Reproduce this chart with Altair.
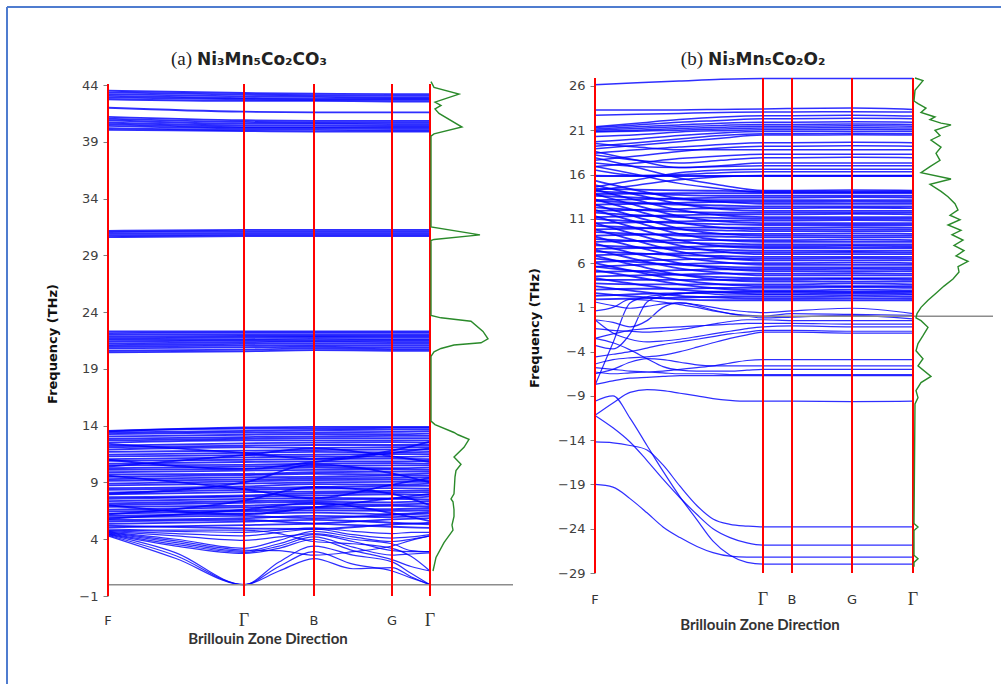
import altair as alt
import pandas as pd

# ---------------- panel (a) data ----------------
kpath_a = [0, 136, 206, 284, 322]                       # F, Γ, B, G, Γ (path distance)
kfine_a = [0, 68, 136, 171, 206, 245, 284, 303, 322]
sym_labels = ["F", "Γ", "B", "G", "Γ"]
yticks_a = [44, 39, 34, 29, 24, 19, 14, 9, 4, -1]

low_a = [
    [4.30, 2.30, 0.00, 1.20, 2.30, 1.40, 1.50, 0.70, 0.00],
    [4.35, 2.55, 0.00, 1.60, 2.90, 1.80, 1.20, 0.60, 0.00],
    [4.40, 2.80, 0.00, 2.00, 3.40, 2.60, 2.00, 1.00, 0.00],
    [4.45, 3.40, 2.75, 3.20, 4.00, 3.00, 2.20, 1.60, 1.20],
    [4.50, 3.55, 2.85, 3.40, 4.20, 3.30, 2.60, 2.70, 2.80],
    [4.55, 3.70, 2.95, 3.60, 4.40, 3.80, 3.00, 2.90, 2.90],
    [4.60, 3.85, 3.05, 3.00, 2.60, 2.90, 3.40, 3.90, 4.30],
    [4.65, 4.00, 3.20, 3.90, 4.70, 4.20, 3.80, 4.00, 4.30],
    [4.70, 4.30, 3.90, 4.20, 4.50, 4.00, 3.60, 3.00, 2.90],
    [4.75, 4.50, 4.30, 4.60, 4.90, 4.40, 4.10, 4.20, 4.40],
    [4.80, 4.70, 4.60, 4.80, 5.00, 4.70, 4.50, 4.60, 4.60],
    [4.90, 4.80, 4.80, 4.50, 3.80, 3.60, 3.20, 2.50, 1.20],
]

main_a = [
    [5.05, 5.25, 5.35, 5.10, 5.00], [5.20, 4.95, 4.90, 5.30, 5.45],
    [5.35, 5.55, 5.70, 5.45, 5.30], [5.55, 5.70, 5.40, 5.75, 5.85],
    [5.70, 5.85, 6.05, 5.95, 6.05], [5.90, 6.05, 5.85, 6.15, 6.25],
    [6.05, 6.25, 6.35, 6.20, 6.40], [6.25, 6.45, 6.55, 6.50, 6.55],
    [6.45, 6.55, 6.75, 6.65, 6.75], [6.60, 6.80, 6.85, 6.95, 6.90],
    [6.85, 6.95, 7.10, 7.05, 7.15], [7.00, 7.20, 7.30, 7.25, 7.35],
    [7.15, 7.35, 7.45, 7.55, 7.50], [7.35, 7.55, 7.65, 7.60, 7.75],
    [7.55, 7.75, 7.85, 7.95, 7.90], [7.70, 7.85, 8.05, 8.10, 8.15],
    [7.95, 8.15, 8.20, 8.25, 8.30], [8.10, 8.35, 8.45, 8.50, 8.45],
    [8.35, 8.50, 8.60, 8.70, 8.70], [8.50, 8.65, 8.85, 8.80, 8.90],
    [8.75, 8.90, 9.00, 9.05, 9.05], [8.90, 9.10, 9.20, 9.25, 9.20],
    [9.15, 9.25, 9.35, 9.40, 9.45], [9.30, 9.45, 9.50, 9.60, 9.60],
    [9.50, 9.65, 9.75, 9.70, 9.80], [9.70, 9.75, 9.90, 9.95, 9.95],
    [9.90, 10.05, 10.10, 10.15, 10.10], [10.10, 10.20, 10.30, 10.25, 10.30],
    [10.25, 10.40, 10.45, 10.50, 10.50], [10.50, 10.55, 10.65, 10.70, 10.65],
    [10.65, 10.80, 10.85, 10.85, 10.90], [10.90, 11.00, 11.05, 11.10, 11.05],
    [11.05, 11.20, 11.30, 11.25, 11.30], [11.30, 11.40, 11.45, 11.50, 11.50],
    [11.45, 11.60, 11.70, 11.65, 11.70], [11.70, 11.80, 11.85, 11.90, 11.90],
    [11.90, 12.10, 12.05, 12.10, 12.10], [12.10, 12.25, 12.30, 12.30, 12.30],
    [12.25, 12.45, 12.50, 12.55, 12.50], [12.50, 12.70, 12.70, 12.70, 12.70],
    [12.70, 12.85, 12.90, 12.90, 12.90], [12.85, 13.00, 13.05, 13.10, 13.10],
    [13.05, 13.20, 13.25, 13.25, 13.30], [13.25, 13.40, 13.40, 13.45, 13.50],
    [13.40, 13.55, 13.60, 13.65, 13.65], [13.55, 13.75, 13.75, 13.80, 13.80],
    [13.50, 13.85, 13.90, 13.90, 13.90],
    [6.20, 7.40, 8.60, 8.00, 7.00], [9.60, 8.40, 7.60, 8.80, 9.40],
    [11.00, 10.20, 10.80, 11.60, 12.00], [8.00, 9.00, 10.60, 9.80, 9.00],
    [12.40, 11.60, 11.10, 11.80, 12.60], [5.80, 6.60, 7.20, 6.30, 5.60],
    [7.00, 6.20, 6.80, 7.60, 8.00], [10.40, 11.40, 12.00, 11.30, 10.80],
]

band21_a = [
    [20.45, 20.55, 20.65, 20.60, 20.60], [20.60, 20.70, 20.80, 20.75, 20.75],
    [20.80, 20.90, 20.95, 20.90, 20.90], [20.95, 21.05, 21.10, 21.05, 21.05],
    [21.10, 21.20, 21.25, 21.20, 21.20], [21.25, 21.35, 21.40, 21.35, 21.35],
    [21.40, 21.50, 21.50, 21.50, 21.50], [21.55, 21.60, 21.65, 21.60, 21.60],
    [21.70, 21.75, 21.80, 21.75, 21.75], [21.85, 21.90, 21.90, 21.90, 21.90],
    [22.00, 22.05, 22.05, 22.05, 22.05], [22.15, 22.20, 22.20, 22.20, 22.20],
    [22.30, 22.30, 22.30, 22.30, 22.30],
]

band31_a = [
    [30.60, 30.70, 30.70, 30.70, 30.70], [30.75, 30.80, 30.80, 30.80, 30.80],
    [30.90, 30.95, 30.95, 30.95, 30.95], [31.05, 31.10, 31.10, 31.10, 31.10],
    [31.15, 31.25, 31.25, 31.25, 31.25],
]

band42_a = [
    [43.50, 43.30, 43.25, 43.20, 43.20], [43.35, 43.15, 43.10, 43.05, 43.05],
    [43.20, 43.00, 42.95, 42.90, 42.90], [43.05, 42.85, 42.80, 42.80, 42.80],
    [42.90, 42.75, 42.70, 42.70, 42.70], [42.75, 42.60, 42.60, 42.55, 42.55],
    [42.00, 41.65, 41.60, 41.60, 41.60],
    [41.20, 40.90, 40.85, 40.85, 40.85], [41.05, 40.75, 40.70, 40.70, 40.70],
    [40.90, 40.60, 40.60, 40.55, 40.55], [40.70, 40.45, 40.45, 40.40, 40.40],
    [40.55, 40.30, 40.30, 40.30, 40.30], [40.40, 40.20, 40.20, 40.15, 40.15],
    [40.20, 40.05, 40.05, 40.00, 40.00], [40.05, 39.95, 39.90, 39.90, 39.90],
]

dos_a_f = [44.3, 43.8, 43.2, 42.5, 42.2, 41.9, 41.5, 40.3, 39.7, 39.5,
           31.5, 30.8, 30.4, 30.3, 23.7, 23.5, 23.2, 22.3, 21.65, 21.3,
           21.1, 20.8, 20.5, 20.1, 14.4, 14.1, 13.4, 13.2, 12.8, 12.1,
           11.25, 10.6, 10.05, 9.5, 8.0, 7.55, 7.3, 6.6, 6.0, 5.25,
           4.8, 3.7, 2.4, 1.2]
dos_a_v = [0, 3, 28, 4, 10, 4, 8, 31, 3, 0,
           0, 49, 3, 0, 0, 10, 40, 52, 57, 50,
           23, 10, 3, 0, 0, 4, 23, 27, 38, 33,
           23, 30, 25, 24, 23, 20, 22, 23, 23, 21,
           22, 13, 5, 2]

# ---------------- panel (b) data ----------------
kpath_b = [0, 168, 197, 257, 318]
kmid_b = [0, 42, 84, 126, 168, 197, 257, 318]
kfine_b = [0, 18, 35, 52, 68, 85, 102, 118, 135, 152, 168, 197, 257, 318]
yticks_b = [26, 21, 16, 11, 6, 1, -4, -9, -14, -19, -24, -29]

low_b = [
    [-7.8, -3.0, 1.5, 2.2, 2.4, 2.6, 2.6, 2.5, 2.4, 2.4, 2.4, 2.4, 2.4, 2.4],
    [-3.3, -3.7, -2.0, 1.6, 2.3, 2.5, 2.7, 2.8, 2.8, 2.8, 2.8, 2.8, 2.8, 2.8],
    [-0.4, -0.7, -1.2, -0.5, 1.0, 1.5, 1.2, 0.7, 0.3, 0.0, -0.2, -0.1, 0.1, -0.3],
    [1.6, 1.2, 0.9, 1.1, 1.4, 1.5, 1.3, 1.0, 0.7, 0.5, 0.4, 0.6, 0.9, 0.3],
    [0.6, 1.0, 1.9, 1.8, 1.6, 1.3, 1.0, 0.6, 0.3, 0.1, 0.0, 0.3, 0.2, 0.1],
    [-1.4, -1.6, -1.7, -1.8, -1.7, -1.5, -1.2, -0.9, -0.6, -0.4, -0.4, -0.5, -0.5, -0.5],
    [-2.5, -2.0, -1.6, -1.4, -1.3, -1.2, -1.1, -1.0, -0.9, -0.8, -0.8, -0.8, -0.9, -0.9],
    [-0.4, -1.9, -2.6, -2.9, -2.8, -2.6, -2.3, -2.0, -1.7, -1.4, -1.2, -1.1, -1.2, -1.2],
    [-4.6, -4.3, -4.0, -3.6, -3.2, -2.9, -2.6, -2.3, -2.0, -1.8, -1.6, -1.6, -1.7, -1.7],
    [-5.4, -4.9, -4.7, -4.6, -4.4, -4.0, -3.5, -3.0, -2.5, -2.1, -1.8, -1.8, -1.9, -1.9],
    [-2.5, -3.0, -3.8, -4.8, -5.7, -6.1, -6.2, -6.2, -6.2, -6.1, -6.0, -6.0, -6.0, -6.0],
    [-6.3, -6.5, -6.4, -6.3, -6.2, -6.0, -5.8, -5.6, -5.3, -5.0, -4.9, -4.9, -4.9, -4.9],
    [-5.8, -6.0, -6.2, -6.3, -6.4, -6.5, -6.5, -6.5, -6.6, -6.6, -6.6, -6.6, -6.6, -6.6],
    [-6.5, -6.0, -5.2, -4.8, -4.9, -5.2, -5.5, -5.6, -5.6, -5.6, -5.6, -5.6, -5.6, -5.6],
    [-7.7, -7.3, -7.0, -6.9, -6.8, -6.7, -6.7, -6.7, -6.7, -6.7, -6.7, -6.7, -6.7, -6.7],
    [-11.2, -9.8, -8.6, -8.3, -8.4, -8.7, -9.0, -9.3, -9.5, -9.6, -9.6, -9.6, -9.65, -9.6],
    [-19.0, -19.3, -20.6, -22.2, -23.8, -25.0, -26.0, -26.7, -27.1, -27.2, -27.2, -27.2, -27.2, -27.2],
    [-14.2, -14.3, -14.6, -15.1, -16.8, -19.2, -21.4, -22.9, -23.5, -23.7, -23.8, -23.8, -23.8, -23.8],
    [-11.2, -12.6, -14.2, -16.3, -18.4, -20.5, -22.4, -24.0, -25.0, -25.6, -25.85, -25.85, -25.85, -25.85],
    [-9.6, -9.0, -11.5, -14.6, -17.5, -20.4, -23.0, -25.4, -27.0, -27.8, -28.0, -28.0, -28.0, -28.0],
]

upper_b = [
    [26.15, 26.35, 26.55, 26.75, 26.85, 26.85, 26.85, 26.85],
    [23.3, 23.3, 23.3, 23.35, 23.4, 23.45, 23.5, 23.35],
    [22.7, 22.8, 22.9, 23.0, 23.05, 23.05, 23.1, 23.05],
    [21.4, 21.8, 22.2, 22.5, 22.65, 22.65, 22.7, 22.6],
    [21.3, 21.6, 21.9, 22.1, 22.3, 22.3, 22.35, 22.3],
    [21.15, 21.4, 21.6, 21.8, 21.9, 21.9, 21.95, 21.9],
    [21.0, 21.2, 21.4, 21.55, 21.65, 21.65, 21.7, 21.65],
    [20.9, 21.0, 21.2, 21.35, 21.45, 21.45, 21.5, 21.45],
    [20.8, 20.9, 21.0, 21.15, 21.25, 21.25, 21.3, 21.25],
    [20.3, 20.5, 20.8, 20.95, 21.05, 21.05, 21.1, 21.05],
    [19.7, 20.0, 20.4, 20.7, 20.85, 20.85, 20.9, 20.85],
    [19.2, 19.6, 20.0, 20.4, 20.6, 20.6, 20.65, 20.6],
    [18.9, 19.3, 19.7, 20.1, 20.45, 20.45, 20.5, 20.45],
    [18.4, 18.8, 19.1, 19.4, 19.6, 19.6, 19.65, 19.6],
    [17.6, 18.1, 18.6, 19.0, 19.2, 19.2, 19.25, 19.2],
    [19.5, 19.1, 18.8, 18.8, 18.8, 18.8, 18.8, 18.8],
    [16.9, 17.3, 17.8, 18.1, 18.3, 18.3, 18.3, 18.3],
    [18.2, 17.6, 17.3, 17.6, 17.9, 17.9, 17.95, 17.9],
    [17.3, 16.9, 16.8, 17.0, 17.3, 17.3, 17.3, 17.3],
    [18.6, 17.6, 16.8, 16.9, 17.0, 17.0, 17.0, 17.0],
    [14.6, 15.4, 16.2, 16.5, 16.6, 16.6, 16.6, 16.6],
    [16.5, 15.9, 16.0, 16.2, 16.3, 16.3, 16.3, 16.3],
    [15.8, 15.8, 15.8, 15.8, 15.8, 15.8, 15.8, 15.8],
    [15.9, 15.85, 15.85, 15.85, 15.85, 15.85, 15.85, 15.85],
    [17.9, 16.8, 15.6, 14.8, 14.2, 14.2, 14.25, 14.2],
    [16.9, 16.0, 15.0, 14.4, 14.0, 14.0, 14.0, 14.0],
    [14.2, 14.8, 15.4, 15.75, 15.9, 15.9, 15.9, 15.9],
]

main_b = [
    [2.6, 2.2, 1.9, 1.8, 1.8, 1.8, 1.8, 1.8], [3.4, 2.8, 2.3, 2.1, 2.0, 2.0, 2.05, 2.0],
    [1.9, 2.0, 2.1, 2.2, 2.2, 2.2, 2.3, 2.2], [4.3, 3.6, 3.0, 2.7, 2.5, 2.5, 2.6, 2.5],
    [2.3, 2.5, 2.6, 2.7, 2.7, 2.7, 2.7, 2.7], [5.2, 4.4, 3.6, 3.1, 2.9, 2.9, 3.0, 2.9],
    [3.0, 3.1, 3.1, 3.2, 3.2, 3.2, 3.3, 3.2], [6.0, 5.0, 4.1, 3.6, 3.4, 3.4, 3.4, 3.4],
    [3.7, 3.6, 3.6, 3.6, 3.6, 3.6, 3.7, 3.6], [6.8, 5.7, 4.7, 4.1, 3.9, 3.9, 3.9, 3.9],
    [4.1, 4.1, 4.1, 4.1, 4.1, 4.1, 4.2, 4.1], [5.6, 5.1, 4.7, 4.4, 4.3, 4.3, 4.3, 4.3],
    [7.5, 6.4, 5.4, 4.9, 4.6, 4.6, 4.6, 4.6], [4.5, 4.6, 4.7, 4.8, 4.8, 4.8, 4.85, 4.8],
    [8.2, 7.0, 6.0, 5.4, 5.1, 5.1, 5.1, 5.1], [5.0, 5.1, 5.2, 5.3, 5.3, 5.3, 5.35, 5.3],
    [6.5, 6.1, 5.8, 5.6, 5.5, 5.5, 5.5, 5.5], [9.0, 7.8, 6.7, 6.1, 5.8, 5.8, 5.8, 5.8],
    [5.6, 5.8, 5.9, 6.0, 6.0, 6.0, 6.05, 6.0], [9.8, 8.5, 7.3, 6.6, 6.3, 6.3, 6.3, 6.3],
    [6.1, 6.3, 6.4, 6.5, 6.5, 6.5, 6.55, 6.5], [7.3, 7.1, 6.9, 6.8, 6.7, 6.7, 6.7, 6.7],
    [10.5, 9.2, 8.0, 7.3, 7.0, 7.0, 7.0, 7.0], [6.9, 7.0, 7.1, 7.2, 7.2, 7.2, 7.25, 7.2],
    [8.0, 7.8, 7.6, 7.5, 7.4, 7.4, 7.4, 7.4], [11.3, 9.9, 8.6, 7.9, 7.7, 7.7, 7.7, 7.7],
    [7.6, 7.7, 7.8, 7.9, 7.9, 7.9, 7.95, 7.9], [8.7, 8.5, 8.3, 8.2, 8.1, 8.1, 8.1, 8.1],
    [12.0, 10.6, 9.3, 8.6, 8.4, 8.4, 8.4, 8.4], [8.4, 8.5, 8.6, 8.6, 8.6, 8.6, 8.65, 8.6],
    [9.5, 9.3, 9.1, 9.0, 8.9, 8.9, 8.9, 8.9], [12.6, 11.2, 9.9, 9.3, 9.1, 9.1, 9.1, 9.1],
    [9.1, 9.2, 9.3, 9.3, 9.3, 9.3, 9.35, 9.3], [10.2, 10.0, 9.8, 9.7, 9.6, 9.6, 9.6, 9.6],
    [13.2, 11.9, 10.6, 10.0, 9.8, 9.8, 9.8, 9.8], [9.8, 9.9, 10.0, 10.0, 10.0, 10.0, 10.05, 10.0],
    [11.0, 10.7, 10.5, 10.4, 10.3, 10.3, 10.3, 10.3], [13.8, 12.5, 11.3, 10.7, 10.5, 10.5, 10.5, 10.5],
    [10.5, 10.6, 10.7, 10.8, 10.8, 10.8, 10.85, 10.8], [11.7, 11.4, 11.2, 11.1, 11.0, 11.0, 11.0, 11.0],
    [14.3, 13.1, 12.0, 11.4, 11.2, 11.2, 11.2, 11.2], [11.2, 11.3, 11.4, 11.5, 11.5, 11.5, 11.55, 11.5],
    [12.3, 12.0, 11.8, 11.7, 11.7, 11.7, 11.7, 11.7], [14.8, 13.7, 12.7, 12.1, 11.9, 11.9, 11.9, 11.9],
    [11.9, 12.0, 12.1, 12.2, 12.2, 12.2, 12.25, 12.2], [13.0, 12.8, 12.6, 12.5, 12.4, 12.4, 12.4, 12.4],
    [15.3, 14.2, 13.3, 12.9, 12.7, 12.7, 12.7, 12.7], [12.6, 12.7, 12.8, 12.9, 12.9, 12.9, 12.95, 12.9],
    [13.6, 13.4, 13.2, 13.1, 13.1, 13.1, 13.1, 13.1], [13.1, 13.2, 13.3, 13.4, 13.4, 13.4, 13.45, 13.4],
    [14.1, 13.9, 13.7, 13.6, 13.6, 13.6, 13.6, 13.6], [13.8, 13.85, 13.9, 13.9, 13.9, 13.9, 13.9, 13.9],
    [14.4, 14.3, 14.2, 14.15, 14.1, 14.1, 14.1, 14.1],
]

dos_b_f = [26.9, 26.6, 25.5, 24.3, 24.0, 23.5, 23.0, 22.5, 22.2, 21.8,
           21.6, 21.0, 20.4, 19.9, 19.1, 18.4, 17.6, 16.9, 16.2, 15.5,
           14.9, 14.1, 13.5, 12.7, 12.0, 11.4, 10.9, 10.3, 9.7, 9.2,
           8.6, 8.0, 7.4, 6.8, 6.2, 5.6, 5.0, 4.2, 3.4, 2.6,
           1.8, 1.0, 0.3, -0.2, -0.5, -1.25, -2.2, -3.1, -3.9, -4.8,
           -5.6, -6.8, -7.5, -8.4, -9.2, -9.9, -23.4, -23.8, -24.2, -27.0,
           -27.4, -27.8, -28.3]
dos_b_v = [1, 9, 1, 0, 4, 12, 7, 21, 16, 27,
           37, 21, 26, 17, 27, 22, 26, 16, 7, 37,
           16, 27, 34, 41, 44, 36, 46, 34, 47, 38,
           49, 40, 50, 42, 54, 44, 45, 39, 30, 22,
           14, 7, 3, 2, 7, 14, 9, 4, 2, 9,
           4, 17, 7, 2, 4, 1, 0, 4, 0, 0,
           4, 0, 0]

# ---------------- helpers ----------------
BLUE = "#0000ff"
RED = "#ff0000"
GREEN = "#2a8a2a"
GRAY = "#8c8c8c"
BORDER = "#4f7ccf"


def band_frame(groups):
    rows = []
    bid = 0
    for kk, bands, w in groups:
        for b in bands:
            for k, f in zip(kk, b):
                rows.append({"band": bid, "k": k, "f": f, "w": w})
            bid += 1
    return pd.DataFrame(rows)


def panel(bands_df, kpath, dos_f, dos_v, ydom, ytop, yticks, width, height,
          title_tag, title_formula, tag_x, lab_y, xt_x, xt_y, yt_x, yt_y,
          border=False):
    xs = alt.Scale(domain=[0, width], nice=False, zero=False)
    ys = alt.Scale(domain=ydom, nice=False, zero=False)
    yaxis = alt.Axis(values=yticks, title=None, domain=False, grid=False, ticks=True,
                     tickColor="#7f7f7f", tickSize=5, labelFont="DejaVu Sans",
                     labelFontSize=13, labelColor="#404040", labelPadding=5)
    gamma_end = kpath[-1]

    bands = alt.Chart(bands_df).mark_line(
        color=BLUE, opacity=0.82, interpolate="monotone"
    ).encode(
        x=alt.X("k:Q", scale=xs, axis=None),
        y=alt.Y("f:Q", scale=ys, axis=yaxis),
        strokeWidth=alt.StrokeWidth("w:Q", scale=None, legend=None),
        detail="band:N",
    )

    zero = alt.Chart(pd.DataFrame({"f": [0]})).mark_rule(
        color=GRAY, strokeWidth=1.5
    ).encode(y=alt.Y("f:Q", scale=ys, axis=yaxis))

    rules_df = pd.DataFrame({"k": kpath, "f": [ydom[0]] * len(kpath),
                             "f2": [ytop] * len(kpath)})
    reds = alt.Chart(rules_df).mark_rule(color=RED, strokeWidth=2).encode(
        x=alt.X("k:Q", scale=xs, axis=None),
        y=alt.Y("f:Q", scale=ys, axis=yaxis),
        y2="f2:Q",
    )

    dos_df = pd.DataFrame({"f": dos_f, "amp": dos_v, "i": list(range(len(dos_f)))})
    dos = alt.Chart(dos_df).transform_calculate(
        k=f"{gamma_end + 1} + datum.amp"
    ).mark_line(color=GREEN, strokeWidth=1.4).encode(
        x=alt.X("k:Q", scale=xs, axis=None),
        y=alt.Y("f:Q", scale=ys, axis=yaxis),
        order="i:Q",
    )

    lab_df = pd.DataFrame({"k": kpath, "lab": sym_labels})
    labs_sans = alt.Chart(lab_df).transform_filter(
        "datum.lab != 'Γ'"
    ).mark_text(font="DejaVu Sans", fontSize=13, color="#333333", baseline="middle").encode(
        x=alt.X("k:Q", scale=xs, axis=None), y=alt.value(lab_y), text="lab:N"
    )
    labs_serif = alt.Chart(lab_df).transform_filter(
        "datum.lab == 'Γ'"
    ).mark_text(font="Liberation Serif", fontSize=18, color="#333333", baseline="middle").encode(
        x=alt.X("k:Q", scale=xs, axis=None), y=alt.value(lab_y), text="lab:N"
    )

    one = pd.DataFrame({"t": [0]})
    xtitle = alt.Chart(one).mark_text(
        text="Brillouin  Zone Direction", font="Lato", fontWeight="bold",
        fontSize=15, color="#333333", baseline="middle", align="center"
    ).encode(x=alt.value(xt_x), y=alt.value(xt_y))
    ytitle = alt.Chart(one).mark_text(
        text="Frequency (THz)", font="DejaVu Sans", fontWeight="bold",
        fontSize=13, color="#111111", baseline="middle", align="center", angle=270
    ).encode(x=alt.value(yt_x), y=alt.value(yt_y))
    ttag = alt.Chart(one).mark_text(
        text=title_tag, font="Liberation Serif", fontSize=19, color="#222222",
        align="right", baseline="alphabetic"
    ).encode(x=alt.value(tag_x), y=alt.value(-13))
    tform = alt.Chart(one).mark_text(
        text=title_formula, font="DejaVu Sans", fontWeight="bold", fontSize=17,
        color="#222222", align="left", baseline="alphabetic"
    ).encode(x=alt.value(tag_x + 5), y=alt.value(-13))

    layers = [bands, zero, reds, dos, labs_sans, labs_serif, xtitle, ytitle, ttag, tform]
    if border:
        top = alt.Chart(one).mark_rule(color=BORDER, strokeWidth=2).encode(
            x=alt.value(-101), x2=alt.value(893), y=alt.value(-71))
        left = alt.Chart(one).mark_rule(color=BORDER, strokeWidth=2).encode(
            x=alt.value(-101), y=alt.value(-71), y2=alt.value(606))
        layers += [top, left]
    return alt.layer(*layers).properties(width=width, height=height)


df_a = band_frame([(kfine_a, low_a, 1.2), (kpath_a, main_a, 1.8), (kpath_a, band21_a, 1.8),
                   (kpath_a, band31_a, 1.8), (kpath_a, band42_a, 1.8)])
df_b = band_frame([(kfine_b, low_b, 1.2), (kmid_b, upper_b, 1.5), (kmid_b, main_b, 1.8)])

pa = panel(df_a, kpath_a, dos_a_f, dos_a_v, [-1, 44.62], 44.1, yticks_a, 405, 518,
           "(a)", "Ni₃Mn₅Co₂CO₃", 84, 543, 160, 561, -55, 266, border=True)
pb = panel(df_b, kpath_b, dos_b_f, dos_b_v, [-29, 26.9], 26.9, yticks_b, 398, 495,
           "(b)", "Ni₃Mn₅Co₂O₂", 108, 522, 165, 547, -60, 250)

chart = alt.hconcat(pa, pb, spacing=82, bounds="flush").properties(
    padding={"left": 6, "top": 6, "right": 0, "bottom": 0}
).configure_view(stroke=None)

chart.save("out.html", embed_options={"renderer": "svg", "actions": False})
